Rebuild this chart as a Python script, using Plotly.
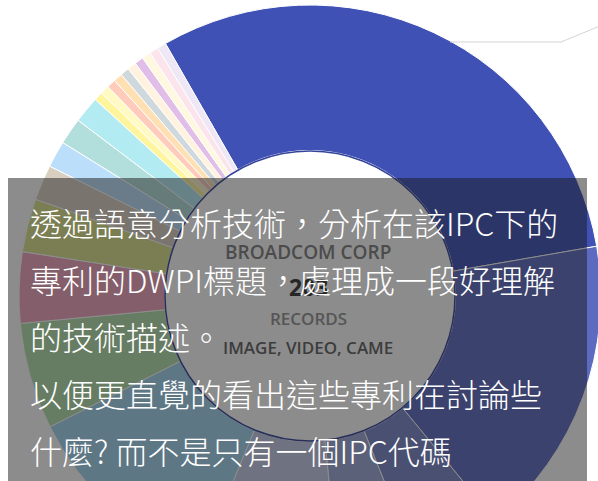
import plotly.graph_objects as go

# IPC groups of BROADCOM CORP patents (record counts), clockwise from the largest group
ipc_groups = [
    "H04N", "G06T", "H04L", "G06K", "G06F", "H04B", "G06N", "G09G", "H03M",
    "G11B", "H01L", "G02B", "H04W", "G08B", "H04M", "G01S", "B60R", "G03B",
    "H04R", "G10L", "A63F", "G05B", "H04J",
]
record_counts = [62, 34, 10, 9, 16, 23, 12, 8, 6, 4, 3, 3, 3,
                 1, 1, 1, 1, 1, 1, 1, 1, 1, 1]
slice_colors = [
    "#3f51b5", "#5c6bc0", "#7986cb", "#9fa8da", "#c5cae9", "#a3d5f0",
    "#b4e0ac", "#eea3bb", "#dae38a", "#d8cfc0", "#bbdefb", "#b2dfdb",
    "#b2ebf2", "#fff59d", "#fff9c4", "#ffccbc", "#ffe0b2", "#cfd8dc",
    "#fff3e0", "#e1bee7", "#fff8e1", "#fce4ec", "#ede7f6",
]

company = "BROADCOM CORP"
total_records = sum(record_counts)
focus_label = "IMAGE, VIDEO, CAME"

caption_lines = [
    "透過語意分析技術，分析在該IPC下的",
    "專利的DWPI標題，處理成一段好理解",
    "的技術描述。",
    "以便更直覺的看出這些專利在討論些",
    "什麼? 而不是只有一個IPC代碼",
]

# page geometry (pixels): the donut is larger than the visible page
W, H = 602, 592
ML, MR, MT, MB = 19, 1, 5, 5
PW, PH = W - ML - MR, H - MT - MB


def xp(px):
    return (px - ML) / PW


def yp(py):
    return (H - MB - py) / PH


fig = go.Figure(
    go.Pie(
        labels=ipc_groups,
        values=record_counts,
        hole=0.5,
        sort=False,
        direction="clockwise",
        rotation=-29.8,
        marker=dict(colors=slice_colors, line=dict(color="white", width=1)),
        textinfo="none",
        hoverinfo="label+value",
        showlegend=False,
    )
)

cx, cy, r_in = 310, 296, 145
shapes = [
    # thin rim around the hole
    dict(type="circle", xref="paper", yref="paper",
         x0=xp(cx - r_in), x1=xp(cx + r_in), y0=yp(cy + r_in), y1=yp(cy - r_in),
         line=dict(color="#34449a", width=1.5), layer="above"),
    # label connector of the largest group
    dict(type="path", xref="paper", yref="paper",
         path=f"M {xp(450)},{yp(42)} L {xp(561)},{yp(42)} L {xp(600)},{yp(26)}",
         line=dict(color="#d4d4d4", width=1), layer="above"),
    # translucent caption panel
    dict(type="rect", xref="paper", yref="paper",
         x0=xp(8), x1=xp(587), y0=yp(482), y1=yp(178),
         fillcolor="rgba(25,25,25,0.5)", line=dict(width=0), layer="above"),
]

annotations = []
center_font = "Open Sans, DejaVu Sans, sans-serif"
center_texts = [
    (company, 252, 19, "#4b4b4b", 600),
    (f"<b>{total_records}</b>", 287, 23, "#262626", 700),
    ("RECORDS", 318, 17, "#555555", 600),
    (focus_label, 347, 17, "#3c3c3c", 600),
]
for txt, y, size, color, weight in center_texts:
    annotations.append(dict(
        text=txt, xref="paper", yref="paper", x=xp(308), y=yp(y),
        xanchor="center", yanchor="middle", showarrow=False,
        font=dict(family=center_font, size=size, color=color, weight=weight),
    ))

caption_font = "Noto Sans CJK TC"
for i, line in enumerate(caption_lines):
    annotations.append(dict(
        text=line, xref="paper", yref="paper", x=xp(28), y=yp(222 + 57 * i),
        xanchor="left", yanchor="middle", showarrow=False,
        font=dict(family=caption_font, size=32, color="#ffffff", weight=300),
    ))

fig.update_layout(
    width=W, height=H,
    margin=dict(l=ML, r=MR, t=MT, b=MB),
    paper_bgcolor="white",
    plot_bgcolor="white",
    shapes=shapes,
    annotations=annotations,
)

fig.write_html(
    "out.html",
    post_script=(
        "document.body.style.margin='0';"
        "document.body.style.overflow='hidden';"
        "document.documentElement.style.overflow='hidden';"
    ),
)
